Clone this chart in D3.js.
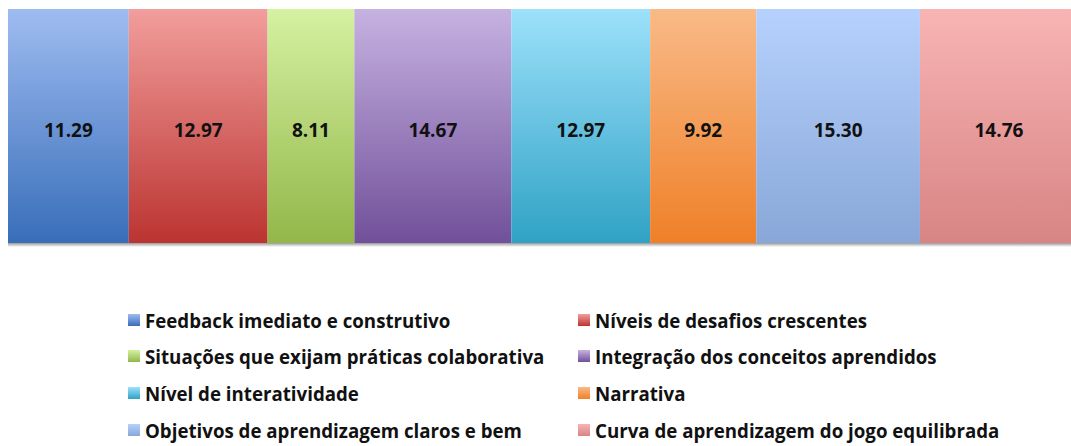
<!DOCTYPE html>
<html>
<head>
<meta charset="utf-8">
<script src="https://cdn.jsdelivr.net/npm/d3@7"></script>
<style>
  body { margin: 0; background: #fff; }
  text { font-family: "Open Sans", sans-serif; font-weight: bold; fill: #111; }
</style>
</head>
<body>
<div id="chart"></div>
<script>
const categories = [
    "Feedback imediato e construtivo",
    "Níveis de desafios crescentes",
    "Situações que exijam práticas colaborativa",
    "Integração dos conceitos aprendidos",
    "Nível de interatividade",
    "Narrativa",
    "Objetivos de aprendizagem claros e bem",
    "Curva de aprendizagem do jogo equilibrada"
]
const values = [11.29, 12.97, 8.11, 14.67, 12.97, 9.92, 15.30, 14.76]
const topColors = ["#9fbcf1", "#f29e9c", "#d5f1a2", "#c6b2e1", "#9de1fb", "#f9ba87", "#b6d1fd", "#f8b4b4"]
const bottomColors = ["#386eb9", "#bb3431", "#93b749", "#71509a", "#30a2c5", "#ef8028", "#88a7d8", "#d88484"]

const width = 1071, height = 446
const svg = d3.select("#chart").append("svg")
              .attr("width", width)
              .attr("height", height)

const defs = svg.append("defs")
categories.forEach((c, i) => {
    const g = defs.append("linearGradient")
                  .attr("id", "grad" + i)
                  .attr("x1", 0).attr("y1", 0).attr("x2", 0).attr("y2", 1)
    g.append("stop").attr("offset", "0%").attr("stop-color", topColors[i])
    g.append("stop").attr("offset", "100%").attr("stop-color", bottomColors[i])
})
const shadow = defs.append("linearGradient")
                   .attr("id", "shadow")
                   .attr("x1", 0).attr("y1", 0).attr("x2", 0).attr("y2", 1)
shadow.append("stop").attr("offset", "0%").attr("stop-color", "#999")
shadow.append("stop").attr("offset", "100%").attr("stop-color", "#fff")

// stacked offsets
let acc = 0
const stacked = values.map((v, i) => {
    const d = { i: i, x0: acc, x1: acc + v, value: v }
    acc += v
    return d
})

const x = d3.scaleLinear().domain([0, 100]).range([8, 1078])
const y = d3.scaleBand().domain(["total"]).range([9, 243]).padding(0)

svg.append("rect")
   .attr("x", x(0)).attr("y", y.range()[1])
   .attr("width", x(100) - x(0)).attr("height", 4)
   .attr("fill", "url(#shadow)")

svg.selectAll("rect.seg")
   .data(stacked)
   .enter().append("rect")
   .attr("class", "seg")
   .attr("x", d => x(d.x0))
   .attr("y", y("total"))
   .attr("width", d => x(d.x1) - x(d.x0))
   .attr("height", y.bandwidth())
   .attr("fill", d => "url(#grad" + d.i + ")")

svg.selectAll("text.lbl")
   .data(stacked)
   .enter().append("text")
   .attr("class", "lbl")
   .attr("x", d => (x(d.x0) + x(d.x1)) / 2)
   .attr("y", y("total") + y.bandwidth() / 2 + 4)
   .attr("dy", "0.35em")
   .attr("text-anchor", "middle")
   .attr("font-size", 19)
   .text(d => d.value.toFixed(2))

// legend, two columns
const legend = svg.append("g")
const colX = [128, 578]
const rowY = [321, 357, 394, 431]
categories.forEach((c, i) => {
    const lx = colX[i % 2], ly = rowY[Math.floor(i / 2)]
    legend.append("rect")
          .attr("x", lx).attr("y", ly - 7)
          .attr("width", 12).attr("height", 12)
          .attr("fill", "url(#grad" + i + ")")
    legend.append("text")
          .attr("x", lx + 17).attr("y", ly)
          .attr("dy", "0.35em")
          .attr("font-size", 18.7)
          .text(c)
})
</script>
</body>
</html>
